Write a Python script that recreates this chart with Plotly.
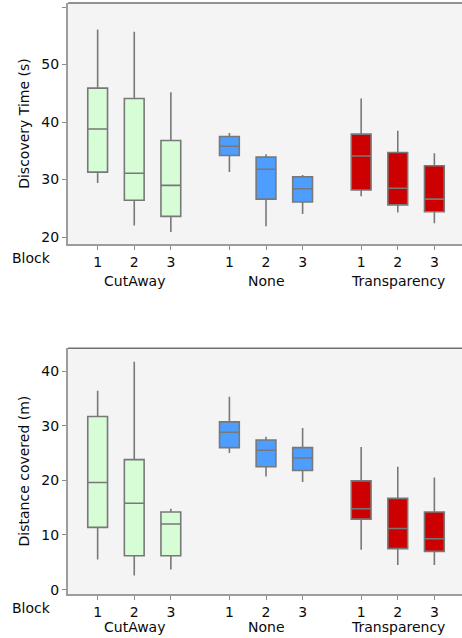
import plotly.graph_objects as go

conditions = ["CutAway", "None", "Transparency"]
blocks = [1, 2, 3]
fill_colors = ["#d7fdd7", "#4d9eff", "#cc0000"]

# Discovery Time (s) - rows: condition, cols: block
time_low = [[29.4, 22.0, 20.9], [31.3, 21.9, 24.0], [27.1, 24.3, 22.4]]
time_q1 = [[31.3, 26.4, 23.6], [34.2, 26.6, 26.1], [28.2, 25.6, 24.4]]
time_med = [[38.8, 31.1, 29.0], [35.8, 31.8, 28.4], [34.1, 28.5, 26.6]]
time_q3 = [[45.9, 44.1, 36.8], [37.5, 33.9, 30.5], [37.9, 34.7, 32.4]]
time_high = [[56.1, 55.7, 45.2], [38.1, 34.4, 30.8], [44.1, 38.5, 34.6]]

# Distance covered (m)
dist_low = [[5.5, 2.6, 3.7], [25.0, 20.7, 19.7], [7.3, 4.5, 4.5]]
dist_q1 = [[11.4, 6.2, 6.2], [26.0, 22.5, 21.8], [12.9, 7.5, 7.0]]
dist_med = [[19.6, 15.8, 12.0], [28.8, 25.5, 24.1], [14.8, 11.2, 9.3]]
dist_q3 = [[31.7, 23.8, 14.2], [30.7, 27.4, 26.0], [19.9, 16.7, 14.2]]
dist_high = [[36.4, 41.7, 14.8], [35.3, 28.0, 29.6], [26.1, 22.5, 20.5]]

GROUP_STEP = 3.6
FONT = "DejaVu Sans"
TXT = "#0a0a0a"


def pos(g, b):
    return g * GROUP_STEP + (b - 1)


fig = go.Figure()

panels = [
    ("x", "y", time_low, time_q1, time_med, time_q3, time_high),
    ("x2", "y2", dist_low, dist_q1, dist_med, dist_q3, dist_high),
]

for xa, ya, lo, q1, med, q3, hi in panels:
    for g, cond in enumerate(conditions):
        for bi, b in enumerate(blocks):
            fig.add_trace(go.Box(
                x=[pos(g, b)], q1=[q1[g][bi]], median=[med[g][bi]], q3=[q3[g][bi]],
                lowerfence=[lo[g][bi]], upperfence=[hi[g][bi]],
                width=0.54, whiskerwidth=0, boxpoints=False,
                fillcolor=fill_colors[g],
                line=dict(color="#787878", width=1.6),
                xaxis=xa, yaxis=ya, showlegend=False, hoverinfo="skip",
            ))

tickvals = [pos(g, b) for g in range(len(conditions)) for b in blocks]
ticktext = [str(b) for g in range(len(conditions)) for b in blocks]

xcommon = dict(
    range=[-0.81, 9.955], tickvals=tickvals, ticktext=ticktext,
    showgrid=False, zeroline=False, showline=True, linecolor="#9c9c9c", linewidth=2,
    ticks="outside", ticklen=4, tickcolor="#8a8a8a", tickwidth=1,
    tickfont=dict(family=FONT, size=14, color=TXT),
)
ycommon = dict(
    showgrid=False, zeroline=False, showline=True, linecolor="#9c9c9c", linewidth=2,
    ticks="outside", ticklen=4, tickcolor="#8a8a8a", tickwidth=1,
    tickfont=dict(family=FONT, size=14, color=TXT),
)

fig.update_layout(
    width=462, height=638,
    margin=dict(l=68, r=0, t=3, b=44),
    paper_bgcolor="white", plot_bgcolor="#f4f4f4",
    xaxis=dict(**xcommon, anchor="y"),
    xaxis2=dict(**xcommon, anchor="y2"),
    yaxis=dict(**ycommon, domain=[0.592, 1.0], range=[18.78, 60.7],
               tickvals=[20, 30, 40, 50, 60], anchor="x",
               title=dict(text="Discovery Time (s)", font=dict(family=FONT, size=14, color=TXT), standoff=8)),
    yaxis2=dict(**ycommon, domain=[0.0, 0.416], range=[-0.8, 44.2],
                tickvals=[0, 10, 20, 30, 40], anchor="x2",
                title=dict(text="Distance covered (m)", font=dict(family=FONT, size=14, color=TXT), standoff=8)),
)

annotations = []
shapes = []
for xa, ya, gshift in [("x", "y", -27), ("x2", "y2", -23)]:
    xd = xa + " domain"
    yd = ya + " domain"
    annotations.append(dict(text="Block", xref=xd, yref=yd, x=0, y=0, xanchor="right", yanchor="middle",
                            xshift=-15, yshift=-14, showarrow=False,
                            font=dict(family=FONT, size=14, color=TXT)))
    for g, cond in enumerate(conditions):
        annotations.append(dict(text=cond, xref=xa, yref=yd, x=pos(g, 2), y=0,
                                xanchor="center", yanchor="top", yshift=gshift, showarrow=False,
                                font=dict(family=FONT, size=14, color=TXT)))
    shapes.append(dict(type="line", xref=xd, yref=yd, x0=0, x1=1, y0=1, y1=1,
                       line=dict(color="#707070", width=1.5)))

fig.update_layout(annotations=annotations, shapes=shapes)

fig.write_html("out.html", config={"displayModeBar": False},
               post_script="document.body.style.margin='0';document.body.style.overflow='hidden';")
